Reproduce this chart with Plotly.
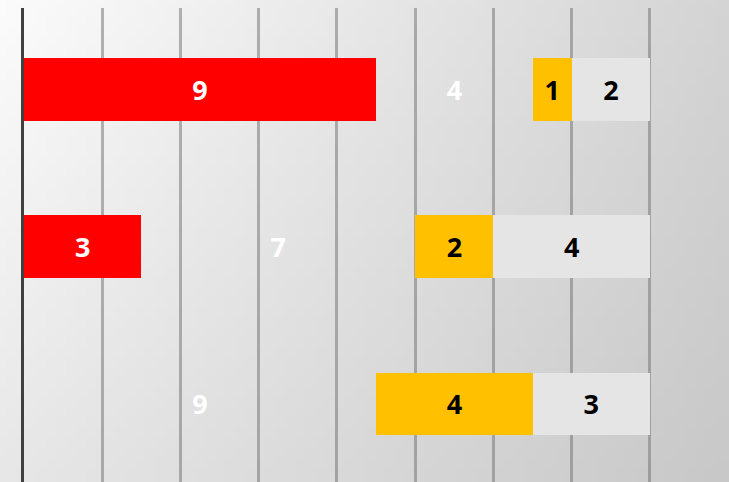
import base64
import struct
import zlib

import plotly.graph_objects as go

# data
rows = ["Row 1", "Row 2", "Row 3"]
red_vals = [9, 3, 0]
blank_vals = [4, 7, 9]
orange_vals = [1, 2, 4]
gray_vals = [2, 4, 3]
grid_ticks = [0, 2, 4, 6, 8, 10, 12, 14, 16]

W, H = 729, 482
L, T = 24, 8


def gradient_png(w, h, tl=251, tr=212, bl=231, br=200):
    # soft slide-style background, white top-left to grey bottom-right
    raw = bytearray()
    for j in range(h):
        raw.append(0)
        v = j / (h - 1)
        for i in range(w):
            u = i / (w - 1)
            c = tl * (1 - u) * (1 - v) + tr * u * (1 - v) + bl * (1 - u) * v + br * u * v
            raw.append(int(round(c)))

    def chunk(tag, data):
        return (struct.pack(">I", len(data)) + tag + data
                + struct.pack(">I", zlib.crc32(tag + data) & 0xFFFFFFFF))

    png = (b"\x89PNG\r\n\x1a\n"
           + chunk(b"IHDR", struct.pack(">IIBBBBB", w, h, 8, 0, 0, 0, 0))
           + chunk(b"IDAT", zlib.compress(bytes(raw)))
           + chunk(b"IEND", b""))
    return "data:image/png;base64," + base64.b64encode(png).decode()


def labels(vals):
    return [str(v) if v else "" for v in vals]


def seg(vals, fill, txt_color, name):
    return go.Bar(
        y=rows, x=vals, orientation="h", name=name,
        marker=dict(color=fill, line=dict(width=0)),
        text=labels(vals), textposition="inside", insidetextanchor="middle",
        textangle=0, constraintext="none",
        textfont=dict(family="Open Sans", size=27, color=txt_color, weight="bold"),
        hoverinfo="skip",
    )


fig = go.Figure()
fig.add_trace(seg(red_vals, "#ff0000", "white", "red"))
fig.add_trace(seg(blank_vals, "rgba(0,0,0,0)", "white", "blank"))
fig.add_trace(seg(orange_vals, "#ffc000", "black", "orange"))
fig.add_trace(seg(gray_vals, "#e5e5e5", "black", "gray"))

pw = W - L
ph = H - T
fig.add_layout_image(
    source=gradient_png(73, 48), xref="paper", yref="paper",
    x=-L / pw, y=1 + T / ph, sizex=W / pw, sizey=H / ph,
    xanchor="left", yanchor="top", sizing="stretch", layer="below",
)

fig.update_layout(
    width=W, height=H,
    margin=dict(l=L, r=0, t=T, b=0, pad=0),
    barmode="stack", bargap=0.6,
    showlegend=False,
    paper_bgcolor="white",
    plot_bgcolor="rgba(0,0,0,0)",
    xaxis=dict(range=[0, 18.02], tickvals=grid_ticks, showticklabels=False,
               showgrid=True, gridcolor="rgba(120,120,120,0.55)", gridwidth=2.5,
               zeroline=False, ticks=""),
    yaxis=dict(range=[2.496, -0.518], showticklabels=False, showgrid=False,
               zeroline=False, ticks="", showline=True,
               linecolor="#404040", linewidth=3),
)

# drop the browser's default body margin so the figure sits at the page corner
fig.write_html("out.html", config={"displayModeBar": False},
               post_script="document.body.style.margin='0';")
